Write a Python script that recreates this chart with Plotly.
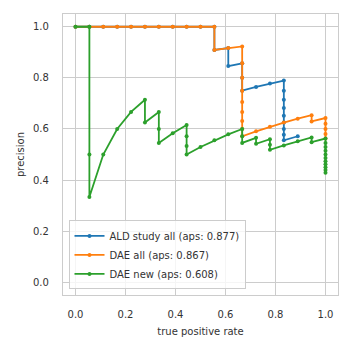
import plotly.graph_objects as go

N_POS = 18

# ALD study all: (true positives, predicted positives) pairs
ald_tp = [0, 1, 2, 3, 4, 5, 6, 7, 8, 9, 10, 10, 11, 11, 12, 12, 12, 13, 14, 15, 15, 15, 15, 15, 15, 15, 15, 15, 16]
ald_n  = [0, 1, 2, 3, 4, 5, 6, 7, 8, 9, 10, 11, 12, 13, 14, 15, 16, 17, 18, 19, 20, 21, 22, 23, 24, 25, 26, 27, 28]

# DAE all
dae_tp = [0, 1, 2, 3, 4, 5, 6, 7, 8, 9, 10, 10, 11, 12, 12, 12, 12, 12, 12, 12, 12, 12, 13, 14, 15, 16, 17, 17, 18, 18, 18, 18, 18]
dae_n  = [0, 1, 2, 3, 4, 5, 6, 7, 8, 9, 10, 11, 12, 13, 14, 15, 16, 17, 18, 19, 20, 21, 22, 23, 24, 25, 26, 27, 28, 29, 30, 31, 32]

# DAE new
new_tp = [0, 1, 1, 1, 2, 3, 4, 5, 5, 6, 6, 6, 7, 8, 8, 8, 8, 9, 10, 11, 12, 12, 12, 13, 13, 14, 14, 14, 15, 16, 17, 17,
          18, 18, 18, 18, 18, 18, 18, 18, 18, 18, 18]
new_n  = [0, 1, 2, 3, 4, 5, 6, 7, 8, 9, 10, 11, 12, 13, 14, 15, 16, 17, 18, 19, 20, 21, 22, 23, 24, 25, 26, 27, 28, 29, 30, 31,
          32, 33, 34, 35, 36, 37, 38, 39, 40, 41, 42]

names = ["ALD study all (aps: 0.877)", "DAE all (aps: 0.867)", "DAE new (aps: 0.608)"]
colors = ["#1f77b4", "#ff7f0e", "#2ca02c"]


def curve(tp, n):
    rec = [t / N_POS for t in tp]
    prec = [1.0 if k == 0 else t / k for t, k in zip(tp, n)]
    return rec, prec


fig = go.Figure()
for (tp, n), name, c in zip([(ald_tp, ald_n), (dae_tp, dae_n), (new_tp, new_n)], names, colors):
    r, p = curve(tp, n)
    fig.add_trace(go.Scatter(x=r, y=p, mode="lines+markers", name=name,
                             line=dict(color=c, width=1.8),
                             marker=dict(color=c, size=4)))

grid = "#cccccc"
FONT = "DejaVu Sans"
axis_common = dict(
    range=[-0.05, 1.05], dtick=0.2, tick0=0, tickformat=".1f",
    showgrid=True, gridcolor=grid, gridwidth=1.2,
    showline=True, linecolor=grid, linewidth=1.2, mirror=True,
    zeroline=False, ticks="", tickfont=dict(family=FONT, size=10, color="#333333"),
)

fig.update_layout(
    width=352, height=352,
    margin=dict(l=63, r=14, t=14, b=57),
    paper_bgcolor="white", plot_bgcolor="white",
    font=dict(family=FONT, size=10, color="#333333"),
    xaxis=dict(**axis_common, ticklabelstandoff=10,
               title=dict(text="true positive rate", font=dict(family=FONT, size=10), standoff=8)),
    yaxis=dict(**axis_common, ticklabelstandoff=11,
               title=dict(text="precision", font=dict(family=FONT, size=10), standoff=6)),
    legend=dict(x=0.02, y=0.02, xanchor="left", yanchor="bottom",
                bgcolor="rgba(255,255,255,0.8)", bordercolor=grid, borderwidth=1,
                font=dict(family=FONT, size=10, color="#333333"), tracegroupgap=0, itemwidth=30),
    showlegend=True,
)

fig.write_html("out.html")
